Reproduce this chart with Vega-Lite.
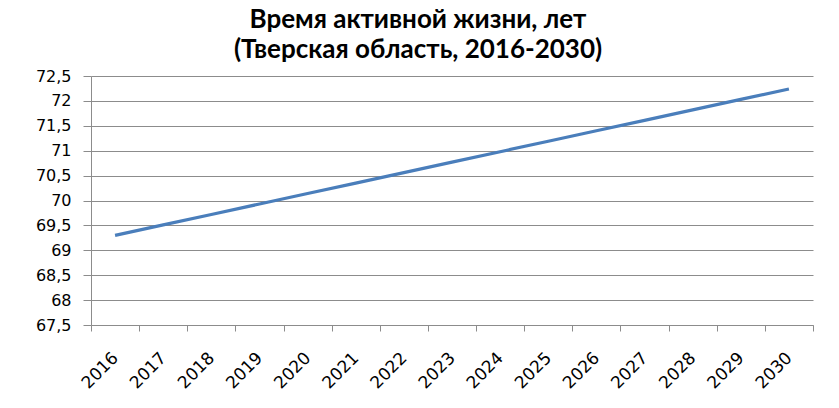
{
  "$schema": "https://vega.github.io/schema/vega-lite/v6.json",
  "autosize": {"type": "none"},
  "width": 722,
  "height": 249,
  "padding": {"left": 91, "top": 76, "right": 26, "bottom": 83},
  "background": "white",
  "title": {
    "text": ["Время активной жизни, лет", "(Тверская область, 2016-2030)"],
    "font": "Lato",
    "fontSize": 26,
    "fontWeight": "bold",
    "color": "#000000",
    "lineHeight": 30,
    "anchor": "middle",
    "frame": "group",
    "dx": -34,
    "offset": 5
  },
  "data": {
    "values": [
      {"year": "2016", "value": 69.3},
      {"year": "2017", "value": 69.51},
      {"year": "2018", "value": 69.72},
      {"year": "2019", "value": 69.93},
      {"year": "2020", "value": 70.14},
      {"year": "2021", "value": 70.35},
      {"year": "2022", "value": 70.56},
      {"year": "2023", "value": 70.77},
      {"year": "2024", "value": 70.98},
      {"year": "2025", "value": 71.19},
      {"year": "2026", "value": 71.4},
      {"year": "2027", "value": 71.61},
      {"year": "2028", "value": 71.82},
      {"year": "2029", "value": 72.03},
      {"year": "2030", "value": 72.24}
    ]
  },
  "mark": {"type": "line", "color": "#4A7EBB", "strokeWidth": 3.2},
  "encoding": {
    "x": {
      "field": "year",
      "type": "ordinal",
      "bandPosition": 0.5,
      "scale": {"type": "band", "paddingInner": 0, "paddingOuter": 0},
      "axis": {
        "title": null,
        "labelAngle": -45,
        "labelAlign": "right",
        "labelBaseline": "middle",
        "labelFont": "DejaVu Sans",
        "labelFontSize": 17,
        "labelColor": "#000000",
        "labelPadding": 24,
        "tickBand": "extent",
        "tickSize": 6,
        "tickColor": "#8c8c8c",
        "domainColor": "#8c8c8c",
        "grid": false
      }
    },
    "y": {
      "field": "value",
      "type": "quantitative",
      "scale": {"domain": [67.5, 72.5], "zero": false, "nice": false},
      "axis": {
        "title": null,
        "values": [67.5, 68, 68.5, 69, 69.5, 70, 70.5, 71, 71.5, 72, 72.5],
        "labelExpr": "replace(toString(datum.value), '.', ',')",
        "labelFont": "DejaVu Sans",
        "labelFontSize": 16,
        "labelColor": "#000000",
        "labelPadding": 12,
        "tickSize": 8,
        "tickColor": "#8c8c8c",
        "domainColor": "#8c8c8c",
        "grid": true,
        "gridColor": "#8c8c8c",
        "gridWidth": 1
      }
    }
  },
  "config": {"view": {"stroke": null}}
}
